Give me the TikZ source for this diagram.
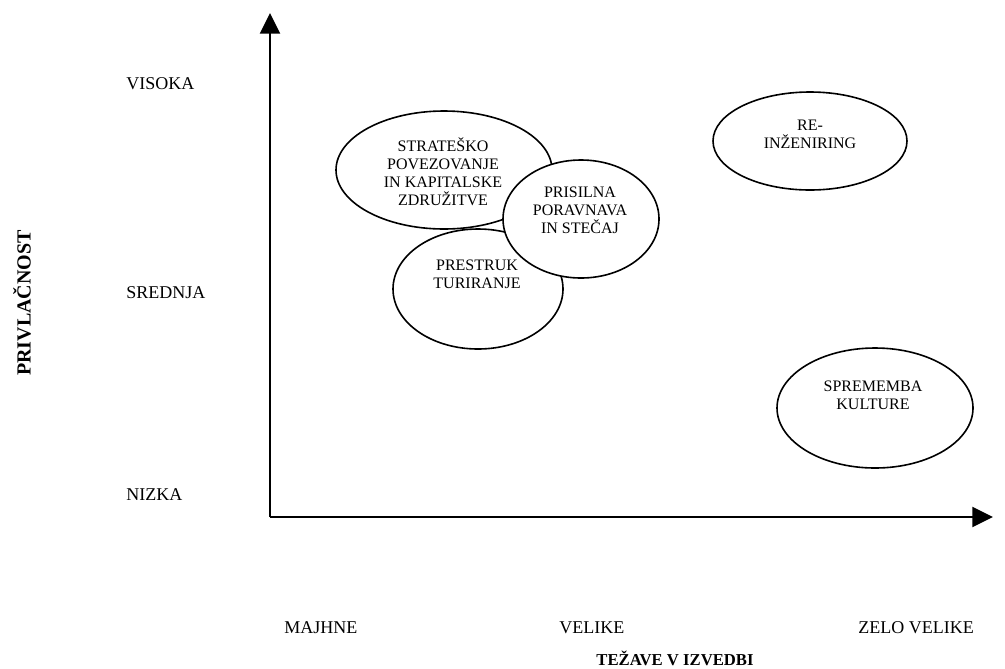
\documentclass[tikz,border=0pt]{standalone}
\usepackage{fontspec}
\setmainfont{Liberation Serif}
\usetikzlibrary{arrows.meta,shapes.geometric}

\begin{document}
\begin{tikzpicture}
  [x=0.75pt,y=-0.75pt,
   every node/.style={font=\fontsize{12}{13.5}\selectfont,inner sep=0pt},
   blob/.style={ellipse,draw,line width=1.2pt,fill=white},
   txt/.style={align=center},
   lab/.style={anchor=west,font=\fontsize{13.5}{16}\selectfont},
   axis/.style={line width=1.6pt,-{Triangle[width=15pt,length=15.5pt]}}]
  \useasboundingbox (0,0) rectangle (1005,668);

  % axes
  \coordinate (o) at (270,517);
  \coordinate (ytop) at (270,13);
  \coordinate (xend) at (993,517);
  \draw [axis] (o) -- (ytop);
  \draw [axis] (o) -- (xend);

  % levels
  \foreach \name/\y/\lab in {vis/84/VISOKA, sre/293/SREDNJA, niz/495/NIZKA}
    \node [lab] (\name) at (126,\y) {\lab};
  \foreach \name/\x/\lab in {maj/284/MAJHNE, vel/559/VELIKE, zel/858/ZELO VELIKE}
    \node [lab] (\name) at (\x,628) {\lab};
  \node [font=\fontsize{12.5}{15}\selectfont\bfseries] (tez) at (675,658) {TEŽAVE V IZVEDBI};
  \node [font=\fontsize{15}{17}\selectfont\bfseries,rotate=90] (pri) at (22,303) {PRIVLAČNOST};

  % ellipses
  \node [blob,minimum width=127.5pt,minimum height=90pt] (e2) at (478,289) {};
  \node [blob,minimum width=162pt,minimum height=88.5pt] (e1) at (444,170) {};
  \node [blob,minimum width=117pt,minimum height=88.5pt] (e3) at (581,219) {};
  \node [blob,minimum width=145.5pt,minimum height=73.5pt] (e4) at (810,141) {};
  \node [blob,minimum width=147pt,minimum height=90pt] (e5) at (875,408) {};

  \node [txt] (t1) at (443,172) {STRATEŠKO\\POVEZOVANJE\\IN KAPITALSKE\\ZDRUŽITVE};
  \node [txt] (t2) at (477,274) {PRESTRUK\\TURIRANJE};
  \node [txt] (t3) at (580,210) {PRISILNA\\PORAVNAVA\\IN STEČAJ};
  \node [txt] (t4) at (810,134) {RE-\\INŽENIRING};
  \node [txt] (t5) at (873,395) {SPREMEMBA\\KULTURE};

\end{tikzpicture}
\end{document}
